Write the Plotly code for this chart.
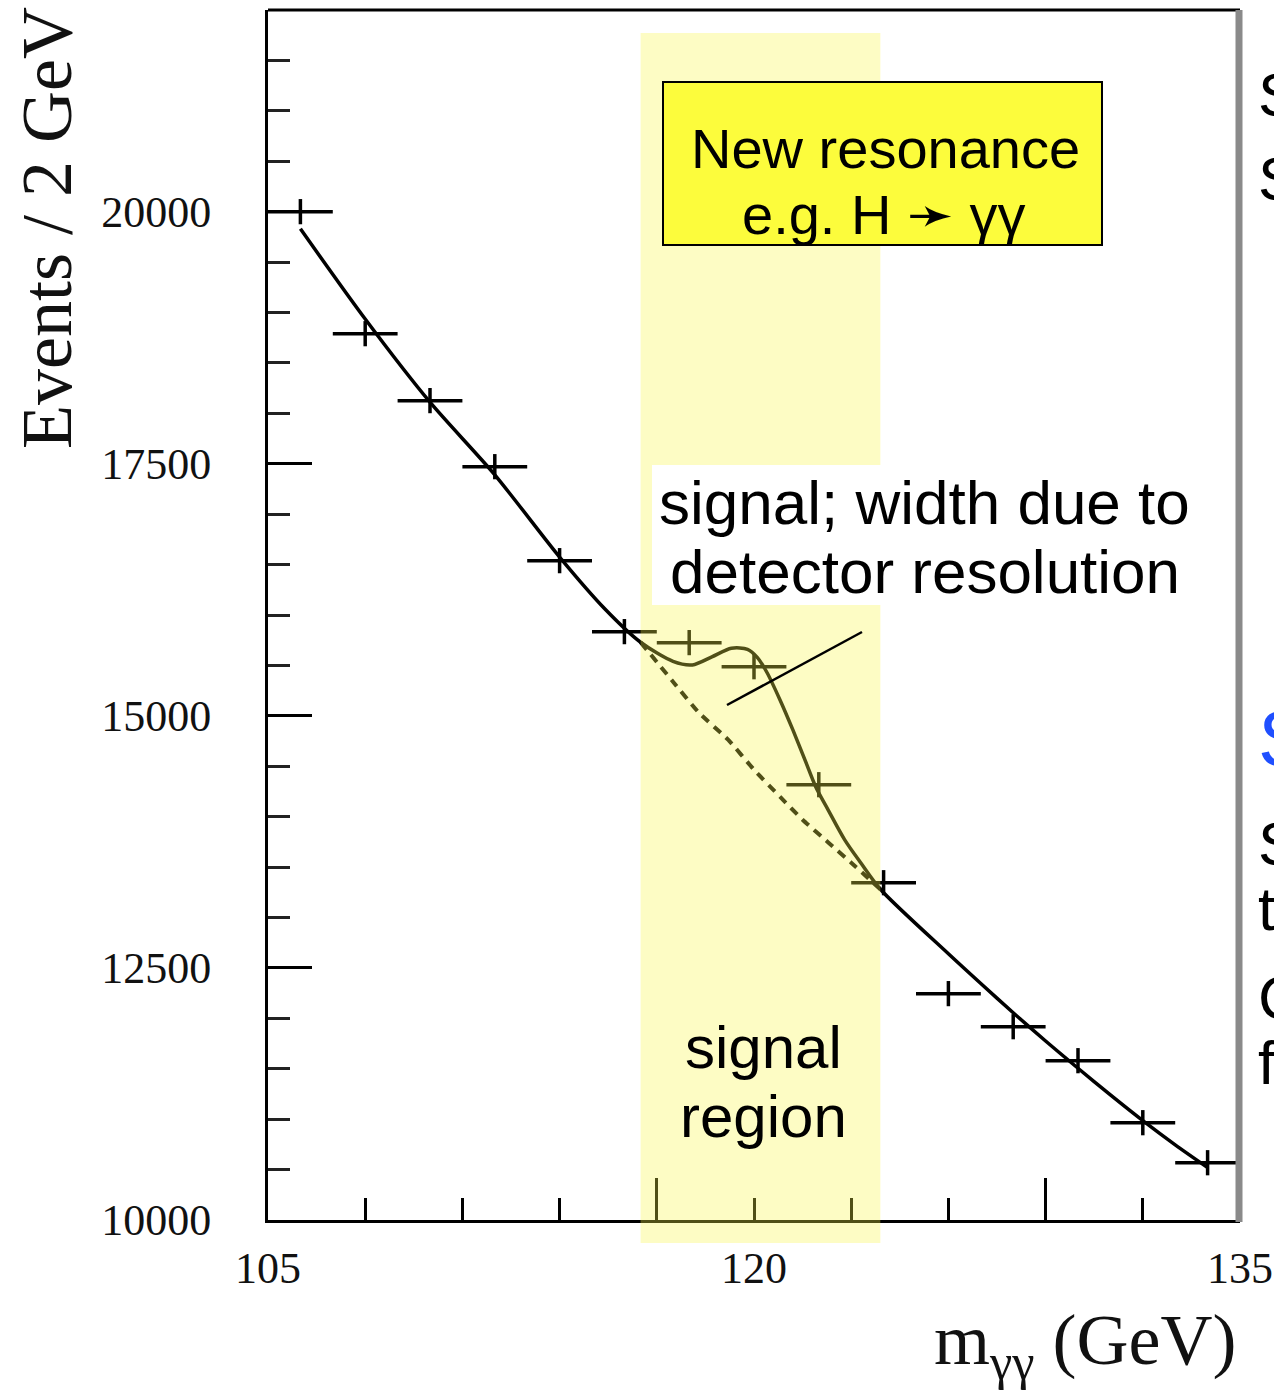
import plotly.graph_objects as go

# ---------------- data ----------------
bin_centers = [106, 108, 110, 112, 114, 116, 118, 120, 122, 124, 126, 128, 130, 132, 134]
counts = [20000, 18790, 18126, 17471, 16539, 15835, 15726, 15487, 14317, 13345, 12245, 11917, 11580, 10965, 10568]
count_err = [125, 125, 125, 125, 125, 125, 125, 125, 125, 125, 125, 125, 125, 125, 125]
bin_half_width = [1, 1, 1, 1, 1, 1, 1, 1, 1, 1, 1, 1, 1, 1, 1]

# signal + background fit (solid)
fit_x = [106, 108, 110, 112, 114, 115.4, 116.5, 117.5, 118.1, 118.7, 119.3, 119.8, 120.1, 120.4,
         120.8, 121.2, 121.6, 121.9, 122.3, 122.8, 123.3, 123.9,
         126, 127, 128, 129, 130, 131, 132, 133, 134]
fit_y = [19830, 18935, 18110, 17390, 16575, 16060, 15730, 15540, 15505, 15585, 15670, 15660, 15580, 15430,
         15160, 14860, 14540, 14300, 14060, 13770, 13540, 13280,
         12640, 12345, 12055, 11775, 11505, 11240, 10985, 10745, 10520]

# background only, inside the signal region (dashed)
bkg_x = [116.5, 117.5, 118.3, 119.2, 120.0, 120.8, 121.5, 122.3, 123.0, 123.9]
bkg_y = [15730, 15339, 15031, 14764, 14466, 14198, 13970, 13742, 13544, 13280]

signal_region = [116.5, 123.9]

x_label_vals = [105, 120, 135]
x_label_text = ["105", "120", "135"]
x_long_ticks = [117, 129]
x_short_ticks = [108, 111, 114, 120, 123, 126, 132]

# ---------------- layout geometry ----------------
W, H = 1274, 1391
L, R, T, B = 268, 34, 10, 171
PW, PH = W - L - R, H - T - B


def PX(px):
    return (px - L) / PW


def PY(py):
    return (H - B - py) / PH


SERIF = "Liberation Serif"
SANS = "Liberation Sans"

fig = go.Figure()

fig.add_trace(go.Scatter(
    x=fit_x, y=fit_y, mode="lines",
    line=dict(color="black", width=3.5, shape="spline", smoothing=0.8),
    hoverinfo="skip", showlegend=False))

fig.add_trace(go.Scatter(
    x=bin_centers, y=counts, mode="markers",
    marker=dict(size=1, color="black"),
    error_x=dict(type="data", array=bin_half_width, thickness=3.5, width=0, color="black"),
    error_y=dict(type="data", array=count_err, thickness=3.5, width=0, color="black"),
    showlegend=False))

fig.add_trace(go.Scatter(
    x=bkg_x, y=bkg_y, mode="lines", xaxis="x2", yaxis="y",
    line=dict(color="black", width=4, dash="9px,7px", shape="spline", smoothing=0.5),
    hoverinfo="skip", showlegend=False))

fig.update_layout(
    width=W, height=H, autosize=False,
    margin=dict(l=L, r=R, t=T, b=B, pad=0, autoexpand=False),
    paper_bgcolor="white", plot_bgcolor="white",
    showlegend=False,
    xaxis=dict(
        range=[105, 135], showgrid=False, zeroline=False, automargin=False,
        showline=True, linecolor="black", linewidth=3,
        tickmode="array", tickvals=x_long_ticks, ticks="inside", ticklen=42,
        tickwidth=3, tickcolor="black", showticklabels=False,
        minor=dict(tickmode="array", tickvals=x_short_ticks, ticks="inside",
                   ticklen=22, tickwidth=3, tickcolor="black"),
    ),
    xaxis2=dict(
        range=[105, 135], overlaying="x", anchor="y", side="bottom", automargin=False,
        showgrid=False, zeroline=False, showline=False, ticks="",
        tickmode="array", tickvals=x_label_vals, ticktext=x_label_text,
        tickfont=dict(family=SERIF, size=44, color="#111"),
        ticklabelstandoff=18,
    ),
    yaxis=dict(
        range=[10000, 22000], showgrid=False, zeroline=False, automargin=False,
        showline=True, linecolor="black", linewidth=3,
        tickmode="linear", tick0=10000, dtick=2500, tickformat="d",
        ticks="inside", ticklen=44, tickwidth=3, tickcolor="black",
        tickfont=dict(family=SERIF, size=44, color="#111"),
        ticklabelstandoff=45,
        minor=dict(tickmode="linear", tick0=10000, dtick=500, ticks="inside",
                   ticklen=22, tickwidth=3, tickcolor="#222"),
    ),
)

shapes = [
    # signal region band
    dict(type="rect", xref="x", yref="paper", x0=signal_region[0], x1=signal_region[1],
         y0=PY(1243), y1=PY(33), fillcolor="rgba(250,245,70,0.32)",
         line=dict(width=0), layer="above"),
    # frame: top and right
    dict(type="line", xref="paper", yref="paper", x0=0, x1=1, y0=1, y1=1,
         line=dict(color="black", width=3), layer="above"),
    dict(type="line", xref="paper", yref="paper", x0=PX(1239), x1=PX(1239), y0=PY(1222), y1=PY(10),
         line=dict(color="#8a8a8a", width=7), layer="above"),
    # white box behind explanation text
    dict(type="rect", xref="paper", yref="paper", x0=PX(652), x1=PX(1190), y0=PY(605), y1=PY(465),
         fillcolor="white", line=dict(width=0), layer="above"),
    # yellow label box
    dict(type="rect", xref="paper", yref="paper", x0=PX(663), x1=PX(1102), y0=PY(245), y1=PY(82),
         fillcolor="#FCFC3C", line=dict(color="black", width=2), layer="above"),
    # pointer line
    dict(type="line", xref="paper", yref="paper", x0=PX(862), y0=PY(632), x1=PX(727), y1=PY(705),
         line=dict(color="black", width=2.5), layer="above"),
]
fig.update_layout(shapes=shapes)


def note(text, px, py, size, family=SANS, color="black", xanchor="center", angle=0):
    fig.add_annotation(text=text, xref="paper", yref="paper", x=PX(px), y=PY(py),
                       xanchor=xanchor, yanchor="middle", showarrow=False, textangle=angle,
                       font=dict(family=family, size=size, color=color))


note("Events / 2 GeV", 47, 228, 72, family=SERIF, color="#111", angle=-90)
note("m<sub>γγ</sub> (GeV)", 1238, 1345, 72, family=SERIF, color="#111", xanchor="right")

note("New resonance", 885, 149, 56)
note("e.g. H ➛ γγ", 884, 214, 56)
note("signal; width due to", 924, 502, 62)
note("detector resolution", 925, 571, 62)
note("signal", 763, 1047, 60)
note("region", 763, 1116, 60)

# slide text cut off at the right edge (as in the reference)
note("S", 1256, 95, 62, xanchor="left")
note("S", 1256, 178, 62, xanchor="left")
note("S", 1256, 738, 80, color="#1f4fff", xanchor="left")
note("S", 1256, 843, 62, xanchor="left")
note("t", 1256, 908, 62, xanchor="left")
note("C", 1256, 997, 62, xanchor="left")
note("f", 1256, 1062, 62, xanchor="left")

fig.write_html("out.html")
